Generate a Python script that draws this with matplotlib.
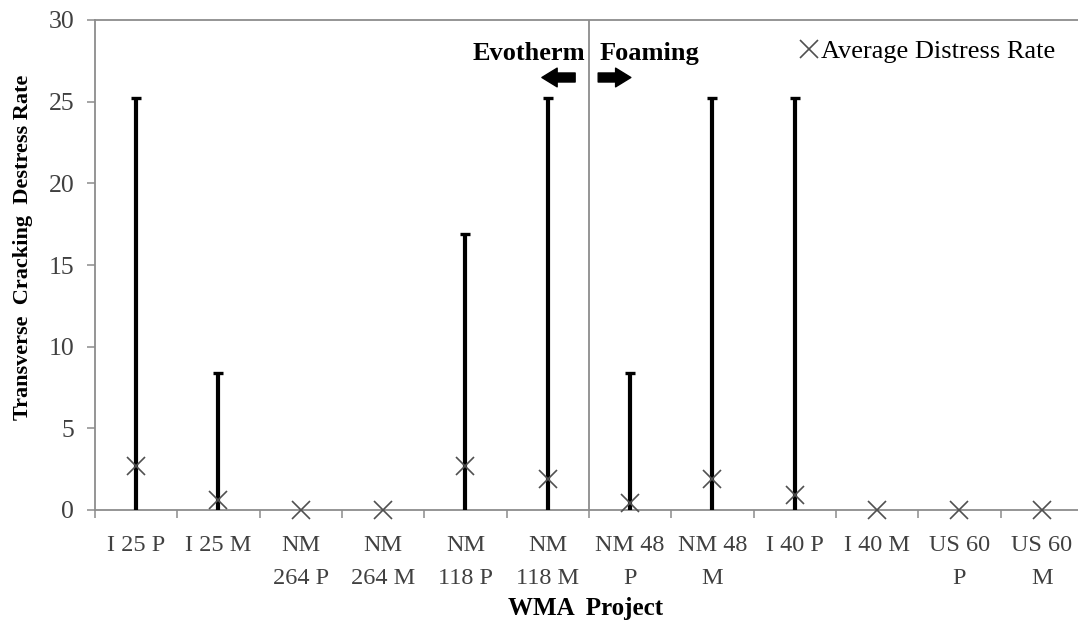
import numpy as np
import matplotlib
matplotlib.use('Agg')
import matplotlib.pyplot as plt
from matplotlib.lines import Line2D

plt.rcParams['font.family'] = ['Liberation Serif', 'DejaVu Serif']

# Проекты WMA и значения трещинообразования
projects = ['I 25 P', 'I 25 M', 'NM\n264 P', 'NM\n264 M', 'NM\n118 P', 'NM\n118 M',
            'NM 48\nP', 'NM 48\nM', 'I 40 P', 'I 40 M', 'US 60\nP', 'US 60\nM']
max_rate = [25.2, 8.4, 0, 0, 16.9, 25.2, 8.4, 25.2, 25.2, 0, 0, 0]
avg_rate = [2.7, 0.6, 0, 0, 2.7, 1.9, 0.4, 1.9, 0.9, 0, 0, 0]

gray = '#8c8c8c'
x = np.arange(len(projects))

fig = plt.figure(figsize=(10.78, 6.25), dpi=100)
ax = fig.add_axes([95 / 1078, 115 / 625, 983 / 1078, 490 / 625])

# Вертикальные линии от нуля до максимума с "шапкой"
mx = np.array(max_rate)
has = mx > 0
ax.vlines(x[has], 0, mx[has], color='black', linewidth=3.0, zorder=3)
ax.plot(x[has], mx[has], linestyle='none', marker='_', markersize=7.5,
        markeredgewidth=2.4, color='black', zorder=3)

# Средние значения
ax.plot(x, avg_rate, linestyle='none', marker='x', markersize=13,
        markeredgewidth=1.2, color='#505050', zorder=4, clip_on=False)

# Разделитель Evotherm / Foaming
ax.axvline(5.5, color=gray, linewidth=1.3, zorder=2)

ax.set_xlim(-0.5, 11.44)
ax.set_ylim(0, 30)
ax.set_yticks(np.arange(0, 31, 5))
ax.set_xticks(np.arange(-0.5, 11.5, 1.0))
ax.set_xticklabels([])
ax.set_xticks(x, minor=True)
ax.set_xticklabels(projects, minor=True, fontsize=17.5, color='#404040', linespacing=1.75)
ax.tick_params(axis='x', which='minor', length=0, pad=18)
ax.tick_params(axis='x', which='major', length=6, width=1.1, color=gray, direction='out')
ax.tick_params(axis='y', length=6, width=1.1, color=gray, direction='out',
               labelsize=18.5, labelcolor='#404040', pad=9)

for side in ['left', 'top', 'bottom']:
    ax.spines[side].set_color(gray)
    ax.spines[side].set_linewidth(1.3)
ax.spines['right'].set_visible(False)

# Подписи и стрелки
ax.text(4.088, 27.55, 'Evotherm', fontsize=19, fontweight='bold', va='baseline', ha='left')
ax.text(5.624, 27.55, 'Foaming', fontsize=19, fontweight='bold', va='baseline', ha='left')
arrow = dict(arrowstyle='simple,head_length=1.1,head_width=1.35,tail_width=0.65',
             color='black', mutation_scale=10, shrinkA=0, shrinkB=0)
ax.annotate('', xy=(4.928, 26.48), xytext=(5.332, 26.48), arrowprops=arrow)
ax.annotate('', xy=(6.009, 26.48), xytext=(5.612, 26.48), arrowprops=arrow)

handle = Line2D([], [], linestyle='none', marker='x', markersize=13,
                markeredgewidth=1.2, color='#505050')
ax.legend([handle], ['Average Distress Rate'], loc='upper left',
          bbox_to_anchor=(800 / 1078, 1 - 40 / 625), bbox_transform=fig.transFigure,
          frameon=False, fontsize=19, handlelength=0.7, handletextpad=0.1,
          borderpad=0, borderaxespad=0)

fig.text(23 / 1078, 1 - 247 / 625, 'Transverse  Cracking  Destress Rate', rotation=90,
         fontsize=16, fontweight='bold', ha='center', va='center')
fig.text(586 / 1078, 1 - 615 / 625, 'WMA  Project', fontsize=18, fontweight='bold',
         ha='center', va='baseline')

fig.savefig('out.png', dpi=100)
